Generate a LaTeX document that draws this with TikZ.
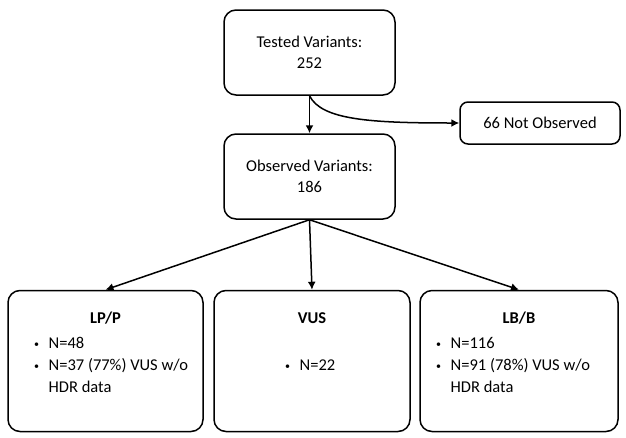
\documentclass[tikz,border=0pt]{standalone}
\usepackage{fontspec}
\setmainfont{Carlito}
\usetikzlibrary{arrows.meta}

\newcommand{\dotmark}{\raisebox{1pt}{\fontsize{10}{10}\selectfont\textbullet}\hspace{9.5pt}}
\newcommand{\nodotmark}{\phantom{\raisebox{1pt}{\fontsize{10}{10}\selectfont\textbullet}}\hspace{9.5pt}}

\tikzset{
  box/.style={draw, line width=1.5pt, rounded corners=12pt, inner sep=0pt},
  boxtext/.style={font=\fontsize{16.5}{21}\selectfont, align=center},
  listtext/.style={font=\fontsize{16.5}{22}\selectfont, align=left, inner sep=0pt},
  flow/.style={line width=1.5pt, -{Latex[length=8pt,width=8pt]}}
}

\begin{document}
\begin{tikzpicture}[x=1pt,y=-1pt]
\useasboundingbox (0,0) rectangle (626,437);
% top of the flow
\node[box, minimum width=171pt, minimum height=85pt] (tested) at (309.5,52.5) {};
\node[boxtext] (testedText) at (tested.center) {Tested Variants:\\252};
\node[box, minimum width=171pt, minimum height=85pt] (observed) at (309.5,176.5) {};
\node[boxtext] (observedText) at (observed.center) {Observed Variants:\\186};
\node[box, rounded corners=8pt, minimum width=160pt, minimum height=42pt] (notObs) at (540,123) {};
\node[boxtext] (notObsText) at (notObs.center) {66 Not Observed};
% the three classes
\node[box, minimum width=195pt, minimum height=141pt] (lpp) at (105.5,361) {};
\node[box, minimum width=196pt, minimum height=141pt] (vus) at (312,361) {};
\node[box, minimum width=198pt, minimum height=141pt] (lbb) at (519,361) {};
\node[boxtext] (lppTitle) at (105.5,318) {\bfseries LP/P};
\node[boxtext] (vusTitle) at (312,318) {\bfseries VUS};
\node[boxtext] (lbbTitle) at (519,318) {\bfseries LB/B};
\node[listtext, anchor=west] (lppList) at (34,365)
  {\dotmark N=48\\ \dotmark N=37 (77\%) VUS w/o\\ \nodotmark HDR data};
\node[listtext, anchor=west] (vusList) at (285,365) {\dotmark N=22};
\node[listtext, anchor=west] (lbbList) at (436,365)
  {\dotmark N=116\\ \dotmark N=91 (78\%) VUS w/o\\ \nodotmark HDR data};
% connectors
\draw[flow] (tested.south) -- (observed.north);
\draw[flow] (tested.south) .. controls +(12,24) and +(-90,0) .. (notObs.west);
\draw[flow] (observed.south) -- (lpp.north);
\draw[flow] (observed.south) -- (vus.north);
\draw[flow] (observed.south) -- (lbb.north);
\end{tikzpicture}
\end{document}
